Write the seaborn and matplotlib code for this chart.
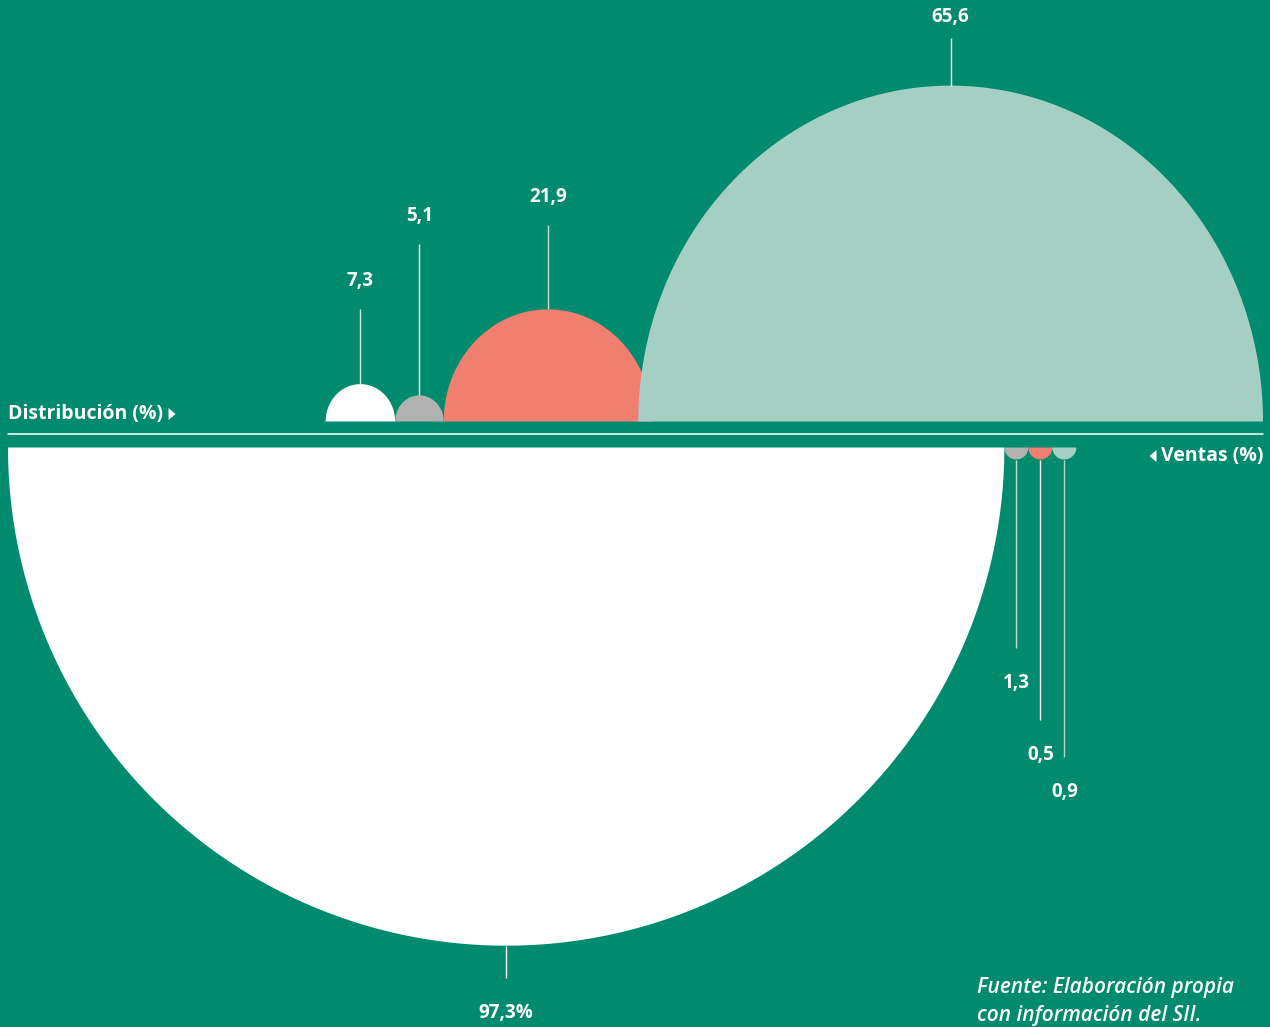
import numpy as np
import matplotlib
matplotlib.use("Agg")
import matplotlib.pyplot as plt
import seaborn as sns

# Distribution of firms and share of sales by firm size
categories = ["Micro", "Pequeña", "Mediana", "Grande"]
distribucion = [7.3, 5.1, 21.9, 65.6]
ventas = [97.3, 1.3, 0.5, 0.9]
dist_labels = ["7,3", "5,1", "21,9", "65,6"]
ventas_labels = ["97,3%", "1,3", "0,5", "0,9"]

# styling / layout
BG = "#008B6E"
colors = ["#FFFFFF", "#B1B1B1", "#F07F70", "#A6CFC4"]
top_line_colors = ["#D6EAE4", "#FFFFFF", "#C9DDD7", "#FFFFFF"]
bot_line_colors = ["#FFFFFF", "#C6D9D3", "#FFFFFF", "#B4D8CE"]
dist_label_y = [281, 216, 197, 17]
ventas_label_y = [1013, 683, 755, 792]
top_overlap = [0, 0, 14]   # overlap between neighbouring upper shapes

sns.set_theme(style="white")
plt.rcParams["font.family"] = ["Open Sans", "DejaVu Sans"]

W, H = 1270, 1027
fig = plt.figure(figsize=(W / 100, H / 100), dpi=100, facecolor=BG)
ax = fig.add_axes([0, 0, 1, 1])
ax.set_facecolor(BG)
ax.set_xlim(0, W)
ax.set_ylim(H, 0)
ax.axis("off")

K = 5.12          # pixels of radius per percentage point
SQUEEZE = 0.93    # horizontal squeeze of the upper row
MIN_R = 12        # minimum radius for tiny values
TOP_BASE, BOT_BASE = 421.5, 447.5
LEFT, RIGHT = 8, 1263
LABEL_FS = 13.5


def half_ellipse(cx, base, rx, ry, up, color, z):
    t = np.linspace(0, np.pi, 200)
    xs = cx + rx * np.cos(t)
    ys = base - ry * np.sin(t) if up else base + ry * np.sin(t)
    ax.fill(xs, ys, color=color, lw=0, zorder=z)


def arrow_head(x, y, direction):
    # small solid triangle pointing left (-1) or right (+1)
    w, h = 7, 6
    ax.fill([x - direction * w / 2, x + direction * w / 2, x - direction * w / 2],
            [y - h, y, y + h], color="white", lw=0, zorder=4)


# upper row: packed from the right edge leftwards
edge = RIGHT
centers_top = [None] * len(distribucion)
radii_top = [None] * len(distribucion)
for i in reversed(range(len(distribucion))):
    ry = max(MIN_R, K * distribucion[i])
    rx = ry * SQUEEZE
    if i < len(distribucion) - 1:
        edge += top_overlap[i]
    cx = edge - rx
    centers_top[i], radii_top[i] = cx, ry
    half_ellipse(cx, TOP_BASE, rx, ry, True, colors[i], 2 + i * 0.01)
    edge = cx - rx

for i in range(len(distribucion)):
    cx, ry = centers_top[i], radii_top[i]
    ly = dist_label_y[i]
    ax.plot([cx, cx], [ly + (21 if ly < 50 else 28), TOP_BASE - ry],
            color=top_line_colors[i], lw=1.0, zorder=3, solid_capstyle="butt")
    ax.text(cx, ly, dist_labels[i], color="white", fontsize=LABEL_FS,
            fontweight="bold", ha="center", va="center")

# lower row: packed from the left edge rightwards
edge = LEFT
for i in range(len(ventas)):
    r = max(MIN_R, K * ventas[i])
    cx = edge + r
    half_ellipse(cx, BOT_BASE, r, r, False, colors[i], 2)
    ly = ventas_label_y[i]
    ax.plot([cx, cx], [BOT_BASE + r, ly - 35], color=bot_line_colors[i],
            lw=1.0, zorder=1, solid_capstyle="butt")
    ax.text(cx, ly, ventas_labels[i], color="white", fontsize=LABEL_FS,
            fontweight="bold", ha="center", va="center")
    edge = cx + r

# divider between the two rows
ax.plot([LEFT, RIGHT], [434, 434], color="white", lw=1.1, zorder=3)

# row titles
ax.text(LEFT, 414, "Distribución (%)", color="white", fontsize=14,
        fontweight="bold", ha="left", va="center")
arrow_head(172, 414, +1)
ax.text(RIGHT, 456, "Ventas (%)", color="white", fontsize=14,
        fontweight="bold", ha="right", va="center")
arrow_head(1153, 456, -1)

# source note
ax.text(977, 988, "Fuente: Elaboración propia", color="white", fontsize=15,
        style="italic", fontweight="semibold", ha="left", va="center")
ax.text(977, 1015, "con información del SII.", color="white", fontsize=15,
        style="italic", fontweight="semibold", ha="left", va="center")

fig.savefig("out.png", dpi=100, facecolor=BG)
